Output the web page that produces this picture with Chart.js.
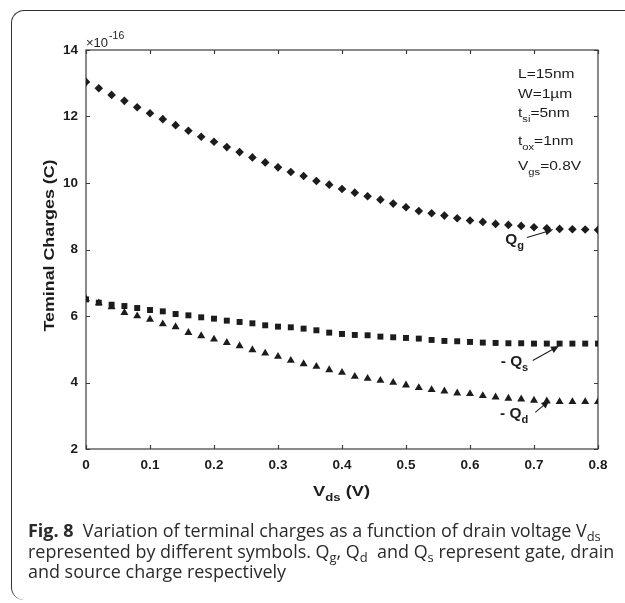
<!DOCTYPE html>
<html>
<head>
<meta charset="utf-8">
<script src="https://cdn.jsdelivr.net/npm/chart.js@4.4.1/dist/chart.umd.min.js"></script>
<style>
  html, body { margin: 0; padding: 0; background: #fff; }
  body { width: 625px; height: 603px; position: relative; overflow: hidden; }
  #frame {
    position: absolute; left: 11px; top: 10px; width: 700px; height: 589px;
    border-top: 1.3px solid #333; border-left: 1.3px solid #333;
    border-radius: 13px 0 0 13px;
  }
  #chart { position: absolute; left: 0; top: 0; }
  #caption {
    position: absolute; left: 28px; top: 520px;
    font-family: "Open Sans", "Noto Sans", sans-serif; color: #2a2a2a;
    line-height: 20.5px; white-space: nowrap;
  }
  #caption span { display: inline-block; }
  #caption sub { font-size: 72%; vertical-align: -0.28em; line-height: 0; }
</style>
</head>
<body>
<div id="frame"></div>
<canvas id="chart" width="625" height="520"></canvas>
<div id="caption">
  <span id="cap1"><b>Fig. 8</b>&nbsp; Variation of terminal charges as a function of drain voltage V<sub>ds</sub></span><br>
  <span id="cap2">represented by different symbols. Q<sub>g</sub>, Q<sub>d</sub>&nbsp; and Q<sub>s</sub> represent gate, drain</span><br>
  <span id="cap3">and source charge respectively</span>
</div>
<script>
// drain voltage (V)
const vds = [0, 0.02, 0.04, 0.06, 0.08, 0.1, 0.12, 0.14, 0.16, 0.18, 0.2, 0.22, 0.24, 0.26, 0.28, 0.3, 0.32, 0.34, 0.36, 0.38, 0.4,
  0.42, 0.44, 0.46, 0.48, 0.5, 0.52, 0.54, 0.56, 0.58, 0.6, 0.62, 0.64, 0.66, 0.68, 0.7, 0.72, 0.74, 0.76, 0.78, 0.8];
// charges in units of 1e-16 C
const qGate = [13.04, 12.85, 12.65, 12.47, 12.28, 12.10, 11.92, 11.74, 11.57, 11.39, 11.24, 11.08, 10.93, 10.77, 10.62, 10.47,
  10.33, 10.21, 10.06, 9.95, 9.82, 9.71, 9.60, 9.50, 9.38, 9.27, 9.16, 9.09, 9.02, 8.94, 8.87, 8.83, 8.77, 8.74, 8.71, 8.67,
  8.64, 8.62, 8.61, 8.60, 8.59];
const qSource = [6.50, 6.40, 6.34, 6.30, 6.24, 6.18, 6.14, 6.06, 6.02, 5.96, 5.92, 5.86, 5.82, 5.78, 5.72, 5.68, 5.66, 5.62,
  5.57, 5.50, 5.46, 5.43, 5.42, 5.38, 5.36, 5.34, 5.32, 5.28, 5.25, 5.24, 5.22, 5.20, 5.19, 5.18, 5.18, 5.17, 5.17, 5.17,
  5.17, 5.17, 5.17];
const qDrain = [6.51, 6.39, 6.27, 6.10, 6.00, 5.90, 5.76, 5.67, 5.50, 5.40, 5.30, 5.20, 5.10, 4.98, 4.88, 4.78, 4.66, 4.56,
  4.48, 4.38, 4.30, 4.18, 4.12, 4.06, 4.00, 3.92, 3.84, 3.78, 3.74, 3.68, 3.66, 3.60, 3.56, 3.52, 3.50, 3.46, 3.44, 3.42,
  3.42, 3.42, 3.42];
const xTicks = [0, 0.1, 0.2, 0.3, 0.4, 0.5, 0.6, 0.7, 0.8];
const yTicks = [2, 4, 6, 8, 10, 12, 14];
const yExponent = '-16';

const ink = '#1c1c1c';
const FONT = '"Liberation Sans", Arial, sans-serif';

function points(ys) {
  return vds.map((v, i) => ({ x: v, y: ys[i] }));
}

// draw a run of text pieces (normal / subscript), stretched by sx
function drawRuns(ctx, parts, x, y, size, bold, sx) {
  ctx.save();
  ctx.translate(x, y);
  ctx.scale(sx || 1, 1);
  ctx.textBaseline = 'alphabetic';
  ctx.textAlign = 'left';
  let cx = 0;
  parts.forEach(p => {
    const fs = p.sub ? size * 0.72 : size;
    ctx.font = (bold ? 'bold ' : '') + fs + 'px ' + FONT;
    ctx.fillText(p.t, cx, p.sub ? size * 0.38 : 0);
    cx += ctx.measureText(p.t).width;
  });
  ctx.restore();
}

function runsWidth(ctx, parts, size, bold) {
  let w = 0;
  parts.forEach(p => {
    const fs = p.sub ? size * 0.72 : size;
    ctx.font = (bold ? 'bold ' : '') + fs + 'px ' + FONT;
    w += ctx.measureText(p.t).width;
  });
  return w;
}

function arrow(ctx, x0, y0, x1, y1) {
  const ang = Math.atan2(y1 - y0, x1 - x0);
  const len = 8, hw = 3.6;
  ctx.beginPath();
  ctx.moveTo(x0, y0);
  ctx.lineTo(x1 - Math.cos(ang) * len * 0.8, y1 - Math.sin(ang) * len * 0.8);
  ctx.stroke();
  ctx.beginPath();
  ctx.moveTo(x1, y1);
  ctx.lineTo(x1 - Math.cos(ang) * len - Math.sin(ang) * hw, y1 - Math.sin(ang) * len + Math.cos(ang) * hw);
  ctx.lineTo(x1 - Math.cos(ang) * len + Math.sin(ang) * hw, y1 - Math.sin(ang) * len - Math.cos(ang) * hw);
  ctx.closePath();
  ctx.fill();
}

const decor = {
  id: 'decor',
  beforeDatasetsDraw(chart) {
    const { ctx, chartArea: a, scales: { x, y } } = chart;
    ctx.save();
    ctx.strokeStyle = '#3c3c3c';
    ctx.lineWidth = 1.2;
    ctx.strokeRect(a.left, a.top, a.right - a.left, a.bottom - a.top);
    ctx.beginPath();
    xTicks.forEach(v => {
      const px = Math.round(x.getPixelForValue(v)) + 0.5;
      ctx.moveTo(px, a.bottom); ctx.lineTo(px, a.bottom - 4);
      ctx.moveTo(px, a.top); ctx.lineTo(px, a.top + 4);
    });
    yTicks.forEach(v => {
      const py = Math.round(y.getPixelForValue(v)) + 0.5;
      ctx.moveTo(a.left, py); ctx.lineTo(a.left + 4, py);
      ctx.moveTo(a.right, py); ctx.lineTo(a.right - 4, py);
    });
    ctx.stroke();
    ctx.restore();
  },
  afterDraw(chart) {
    const { ctx, chartArea: a, scales: { x, y } } = chart;
    ctx.save();
    ctx.fillStyle = ink;
    ctx.strokeStyle = ink;

    // exponent above the y axis
    ctx.textBaseline = 'alphabetic';
    ctx.font = '13px ' + FONT;
    ctx.fillText('\u00d710', a.left, a.top - 3);
    const ew = ctx.measureText('\u00d710').width;
    ctx.font = '10.5px ' + FONT;
    ctx.fillText(yExponent, a.left + ew + 1, a.top - 11);

    // y axis title
    const yt = [{ t: 'Teminal Charges (C)' }];
    const ytw = runsWidth(ctx, yt, 15, true);
    ctx.save();
    ctx.translate(54, (a.top + a.bottom) / 2 - 4);
    ctx.rotate(-Math.PI / 2);
    drawRuns(ctx, yt, -172 / 2, 0, 15, true, 172 / ytw);
    ctx.restore();

    // x axis title
    const xt = [{ t: 'V' }, { t: 'ds', sub: true }, { t: ' (V)' }];
    const xtw = runsWidth(ctx, xt, 15, true);
    drawRuns(ctx, xt, 313, a.bottom + 46.5, 15, true, 57 / xtw);

    // parameter box
    const px0 = x.getPixelForValue(0.675);
    const params = [
      [[{ t: 'L=15nm' }], 27.5],
      [[{ t: 'W=1\u00b5m' }], 47.5],
      [[{ t: 't' }, { t: 'si', sub: true }, { t: '=5nm' }], 66.5],
      [[{ t: 't' }, { t: 'ox', sub: true }, { t: '=1nm' }], 94.5],
      [[{ t: 'V' }, { t: 'gs', sub: true }, { t: '=0.8V' }], 119.5]
    ];
    params.forEach(([parts, dy]) => drawRuns(ctx, parts, px0, a.top + dy, 13.5, false, 1.15));

    // series labels with arrows
    ctx.lineWidth = 1.1;
    const labels = [
      { parts: [{ t: 'Q' }, { t: 'g', sub: true }], at: [0.655, 8.32], from: [0.689, 8.36], to: [0.730, 8.60] },
      { parts: [{ t: '- Q' }, { t: 's', sub: true }], at: [0.648, 4.65], from: [0.698, 4.66], to: [0.739, 5.10] },
      { parts: [{ t: '- Q' }, { t: 'd', sub: true }], at: [0.647, 3.09], from: [0.702, 3.10], to: [0.724, 3.46] }
    ];
    labels.forEach(l => {
      drawRuns(ctx, l.parts, x.getPixelForValue(l.at[0]), y.getPixelForValue(l.at[1]) + 5.2, 14, true, 1.1);
      arrow(ctx, x.getPixelForValue(l.from[0]), y.getPixelForValue(l.from[1]),
        x.getPixelForValue(l.to[0]), y.getPixelForValue(l.to[1]));
    });
    ctx.restore();
  }
};

new Chart(document.getElementById('chart'), {
  type: 'scatter',
  data: {
    datasets: [
      { label: 'Qg', data: points(qGate), pointStyle: 'rectRot', pointRadius: 4.3,
        backgroundColor: ink, borderColor: ink, borderWidth: 0 },
      { label: '-Qs', data: points(qSource), pointStyle: 'rect', pointRadius: 4.2,
        backgroundColor: ink, borderColor: ink, borderWidth: 0 },
      { label: '-Qd', data: points(qDrain), pointStyle: 'triangle', pointRadius: 4.6,
        backgroundColor: ink, borderColor: ink, borderWidth: 0 }
    ]
  },
  options: {
    responsive: false,
    animation: false,
    events: [],
    layout: { padding: { left: 0, top: 50, right: 27, bottom: 31 } },
    plugins: { legend: { display: false }, tooltip: { enabled: false } },
    scales: {
      x: {
        type: 'linear', min: 0, max: 0.8,
        grid: { display: false, drawTicks: false },
        border: { display: false },
        afterBuildTicks: s => { s.ticks = xTicks.map(v => ({ value: v })); },
        afterFit: s => { s.height = 40; s.paddingLeft = 0; s.paddingRight = 0; },
        ticks: {
          color: ink, padding: 8, maxRotation: 0, autoSkip: false,
          font: { family: FONT, size: 13.5, weight: 'bold' },
          callback: v => (v === 0 ? '0' : v.toFixed(1))
        }
      },
      y: {
        type: 'linear', min: 2, max: 14,
        grid: { display: false, drawTicks: false },
        border: { display: false },
        afterBuildTicks: s => { s.ticks = yTicks.map(v => ({ value: v })); },
        afterFit: s => { s.width = 86; s.paddingTop = 0; s.paddingBottom = 0; },
        ticks: {
          color: ink, padding: 8, autoSkip: false,
          font: { family: FONT, size: 13.5, weight: 'bold' }
        }
      }
    }
  },
  plugins: [decor]
});

// fit caption font so the second line spans the same width as in the figure
const cap = document.getElementById('caption');
cap.style.fontSize = '16px';
const w2 = document.getElementById('cap2').getBoundingClientRect().width;
cap.style.fontSize = (16 * 587 / w2).toFixed(2) + 'px';
</script>
</body>
</html>
